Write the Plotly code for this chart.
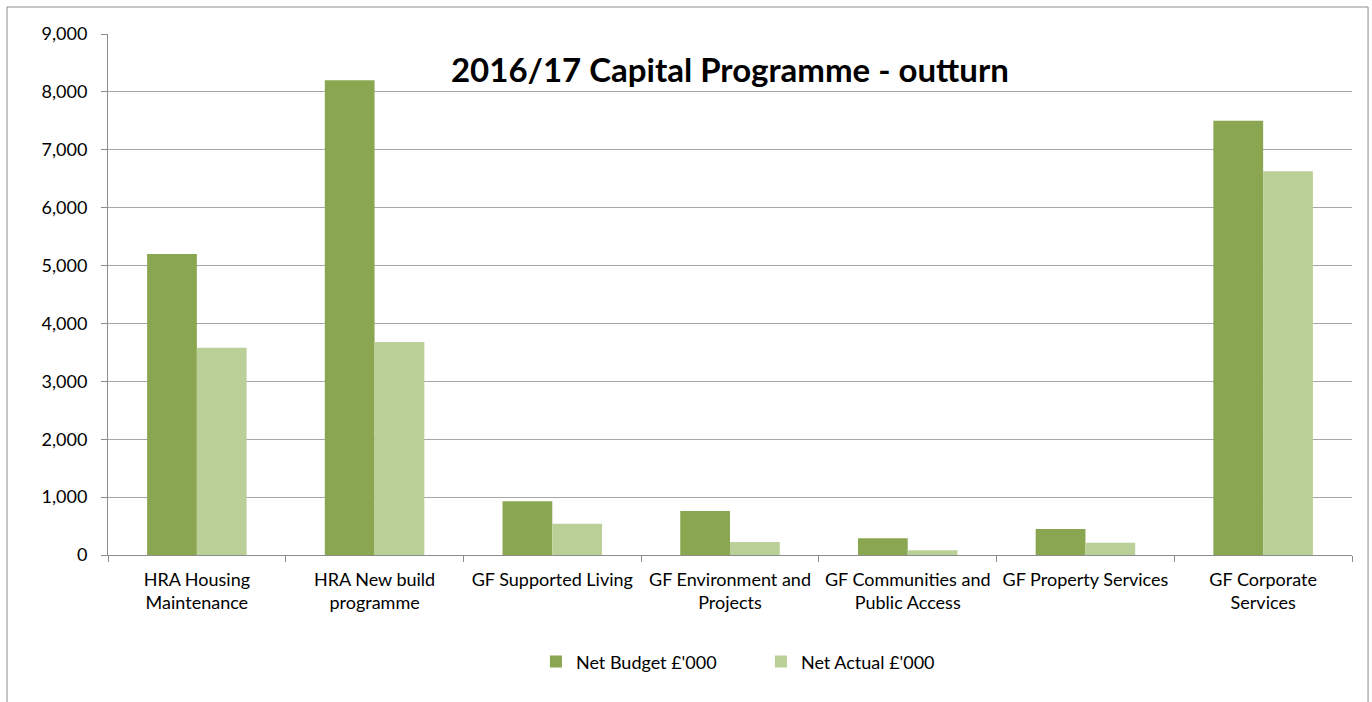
import plotly.graph_objects as go

categories = [
    "HRA Housing<br>Maintenance",
    "HRA New build<br>programme",
    "GF Supported Living",
    "GF Environment and<br>Projects",
    "GF Communities and<br>Public Access",
    "GF Property Services",
    "GF Corporate<br>Services",
]
net_budget = [5200, 8200, 930, 760, 290, 450, 7500]
net_actual = [3580, 3680, 540, 225, 80, 210, 6630]
y_ticks = [0, 1000, 2000, 3000, 4000, 5000, 6000, 7000, 8000, 9000]

FONT = "Lato, sans-serif"

fig = go.Figure()
fig.add_trace(go.Bar(name="Net Budget £'000", x=categories, y=net_budget,
                     marker=dict(color="#8BA650", line=dict(width=0))))
fig.add_trace(go.Bar(name="Net Actual £'000", x=categories, y=net_actual,
                     marker=dict(color="#BBCF98", line=dict(width=0))))

fig.update_layout(
    width=1372, height=702,
    margin=dict(l=108, r=20, t=34, b=147, autoexpand=False),
    paper_bgcolor="white", plot_bgcolor="white",
    barmode="group", bargap=0.44, bargroupgap=0,
    font=dict(family=FONT, size=18, color="#000000"),
    title=dict(text="<b>2016/17 Capital Programme - outturn</b>",
               x=0.532, xanchor="center", y=0.9, yanchor="middle",
               font=dict(family=FONT, size=33, color="#000000")),
    showlegend=True,
    legend=dict(orientation="h", x=0.344, xanchor="left", y=-0.205, yanchor="middle",
                font=dict(family=FONT, size=18), itemwidth=30,
                entrywidth=180, entrywidthmode="pixels", traceorder="normal"),
    xaxis=dict(showline=True, linecolor="#8C8C8C", linewidth=1,
               ticks="outside", tickson="boundaries", ticklen=6, tickcolor="#8C8C8C",
               ticklabelstandoff=8, tickangle=0, automargin=False,
               showgrid=False, tickfont=dict(family=FONT, size=18)),
    yaxis=dict(range=[0, 9000], tickvals=y_ticks, tickformat=",d",
               showline=True, linecolor="#8C8C8C", linewidth=1,
               ticks="outside", ticklen=6, tickcolor="#8C8C8C",
               ticklabelstandoff=10, automargin=False,
               showgrid=True, gridcolor="#A6A6A6", gridwidth=1,
               zeroline=False, tickfont=dict(family=FONT, size=18)),
    shapes=[dict(type="rect", xref="paper", yref="paper",
                 x0=-0.0812, x1=1.0129, y0=-0.4, y1=1.0518,
                 line=dict(color="#8C8C8C", width=1), fillcolor="rgba(0,0,0,0)",
                 layer="below")],
)

fig.write_html("out.html")
